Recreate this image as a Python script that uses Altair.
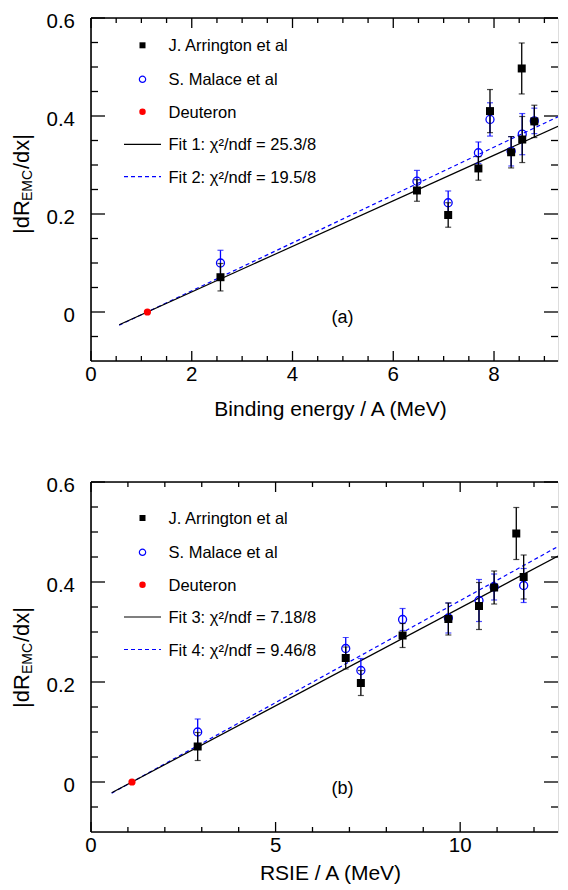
import altair as alt
import pandas as pd

FONT = "Liberation Sans"
BLUE = "#0000ff"
RED = "#ff0000"

# ---------------- data ----------------
# J. Arrington et al (black squares)
ARR_BE = [2.57, 6.47, 7.09, 7.69, 7.92, 8.34, 8.55, 8.56, 8.80]
ARR_RSIE = [2.89, 6.90, 7.31, 8.44, 11.72, 9.68, 11.52, 10.51, 10.92]
ARR_VAL = [0.071, 0.248, 0.198, 0.293, 0.410, 0.326, 0.497, 0.352, 0.389]
ARR_ERR = [0.028, 0.022, 0.025, 0.024, 0.044, 0.032, 0.052, 0.047, 0.033]
# S. Malace et al (open blue circles)
MAL_BE = [2.57, 6.47, 7.09, 7.69, 7.92, 8.34, 8.56, 8.80]
MAL_RSIE = [2.89, 6.90, 7.31, 8.44, 11.72, 9.68, 10.51, 10.92]
MAL_VAL = [0.100, 0.267, 0.223, 0.325, 0.393, 0.328, 0.363, 0.390]
MAL_ERR = [0.026, 0.022, 0.024, 0.022, 0.034, 0.030, 0.042, 0.026]
# Deuteron
DEU_BE = [1.12]
DEU_RSIE = [1.11]
DEU_VAL = [0.0]
# fit lines (end points)
FIT_BE_X = [0.56, 9.27]
FIT1_Y = [-0.026, 0.379]
FIT2_Y = [-0.027, 0.3985]
FIT_RSIE_X = [0.56, 12.65]
FIT3_Y = [-0.0216, 0.452]
FIT4_Y = [-0.0224, 0.471]

LEGEND_A = ["J. Arrington et al", "S. Malace et al", "Deuteron",
            "Fit 1: χ²/ndf = 25.3/8", "Fit 2: χ²/ndf = 19.5/8"]
LEGEND_B = ["J. Arrington et al", "S. Malace et al", "Deuteron",
            "Fit 3: χ²/ndf = 7.18/8", "Fit 4: χ²/ndf = 9.46/8"]

X_DOMAIN_A = [0, 9.27]
X_MAJOR_A = [0, 2, 4, 6, 8]
X_LABELS_A = ["0", "2", "4", "6", "8"]
X_MINOR_A = [0.5, 1, 1.5, 2.5, 3, 3.5, 4.5, 5, 5.5, 6.5, 7, 7.5, 8.5, 9]
X_DOMAIN_B = [0, 12.65]
X_MAJOR_B = [0, 5, 10]
X_LABELS_B = ["0", "5", "10"]
X_MINOR_B = [1, 2, 3, 4, 6, 7, 8, 9, 11, 12]
Y_DOMAIN = [-0.1, 0.6]
Y_MAJOR = [0, 0.2, 0.4, 0.6]
Y_LABELS = ["0", "0.2", "0.4", "0.6"]
Y_MINOR = [-0.05, 0.05, 0.1, 0.15, 0.25, 0.3, 0.35, 0.45, 0.5, 0.55]

# ---------------- layout / style ----------------
W = 467
ONE = pd.DataFrame({"k": [0]})
X_TICK_PX = (10, 5)   # major / minor tick length on x edges
Y_TICK_PX = (14, 7)   # major / minor tick length on y edges


def panel(x_arr, x_mal, x_deu, fit_x, fit_k, fit_b, legend, tag,
          xdom, xmaj, xlabs, xmin, xtitle, H, top_page, leg_rows_page, tag_page,
          title_pieces_page, title_base):
    xs = alt.Scale(domain=xdom, nice=False, zero=False)
    ys = alt.Scale(domain=Y_DOMAIN, nice=False, zero=False)
    ylo, yhi = Y_DOMAIN
    xlo, xhi = xdom
    upy = (yhi - ylo) / H          # data units per pixel (y)
    upx = (xhi - xlo) / W          # data units per pixel (x)

    arr = pd.DataFrame({"x": x_arr, "v": ARR_VAL,
                        "lo": [v - e for v, e in zip(ARR_VAL, ARR_ERR)],
                        "hi": [v + e for v, e in zip(ARR_VAL, ARR_ERR)]})
    mal = pd.DataFrame({"x": x_mal, "v": MAL_VAL,
                        "lo": [v - e for v, e in zip(MAL_VAL, MAL_ERR)],
                        "hi": [v + e for v, e in zip(MAL_VAL, MAL_ERR)]})
    deu = pd.DataFrame({"x": x_deu, "v": DEU_VAL})
    fk = pd.DataFrame({"x": fit_x, "v": fit_k})
    fb = pd.DataFrame({"x": fit_x, "v": fit_b})
    xmaj_df = pd.DataFrame({"t": xmaj, "lab": xlabs})
    ymaj_df = pd.DataFrame({"t": Y_MAJOR, "lab": Y_LABELS})

    # tick segments (inward) on all four sides
    xt = []
    for vals, size in [(xmaj, X_TICK_PX[0]), (xmin, X_TICK_PX[1])]:
        for t in vals:
            xt.append({"t": t, "a": ylo, "b": ylo + size * upy})
            xt.append({"t": t, "a": yhi, "b": yhi - size * upy})
    yt = []
    for vals, size in [(Y_MAJOR, Y_TICK_PX[0]), (Y_MINOR, Y_TICK_PX[1])]:
        for t in vals:
            yt.append({"t": t, "a": xlo, "b": xlo + size * upx})
            yt.append({"t": t, "a": xhi, "b": xhi - size * upx})
    xt_df = pd.DataFrame(xt)
    yt_df = pd.DataFrame(yt)

    def X(field):
        return alt.X(f"{field}:Q", scale=xs, axis=None)

    def Y(field):
        return alt.Y(f"{field}:Q", scale=ys, axis=None)

    layers = []
    layers.append(alt.Chart(xt_df).mark_rule(color="black", strokeWidth=1.3)
                  .encode(x=X("t"), y=Y("a"), y2="b:Q"))
    layers.append(alt.Chart(yt_df).mark_rule(color="black", strokeWidth=1.3)
                  .encode(y=Y("t"), x=X("a"), x2="b:Q"))
    # frame (left, bottom, top)
    layers.append(alt.Chart(ONE).mark_rule(color="black", strokeWidth=1.6)
                  .encode(x=alt.value(0), y=alt.value(0), y2=alt.value(H)))
    layers.append(alt.Chart(ONE).mark_rule(color="black", strokeWidth=1.6)
                  .encode(x=alt.value(0), x2=alt.value(W), y=alt.value(H)))
    layers.append(alt.Chart(ONE).mark_rule(color="black", strokeWidth=1.6)
                  .encode(x=alt.value(0), x2=alt.value(W), y=alt.value(0)))
    # tick labels
    layers.append(alt.Chart(xmaj_df).mark_text(font=FONT, fontSize=20.5,
                                               color="black", align="center",
                                               baseline="alphabetic")
                  .encode(x=X("t"), y=alt.value(H + 19.8), text="lab:N"))
    layers.append(alt.Chart(ymaj_df).mark_text(font=FONT, fontSize=20.5,
                                               color="black", align="right",
                                               baseline="alphabetic", dy=10.4)
                  .encode(y=Y("t"), x=alt.value(-16), text="lab:N"))
    # x title
    layers.append(alt.Chart(ONE).mark_text(text=xtitle, font=FONT, fontSize=21,
                                           color="black", align="center",
                                           baseline="alphabetic")
                  .encode(x=alt.value(239.5), y=alt.value(H + title_base)))

    # fit lines
    layers.append(alt.Chart(fb).mark_line(color=BLUE, strokeWidth=1.2,
                                          strokeDash=[4, 3], clip=True)
                  .encode(x=X("x"), y=Y("v")))
    layers.append(alt.Chart(fk).mark_line(color="black", strokeWidth=1.2, clip=True)
                  .encode(x=X("x"), y=Y("v")))
    # Malace error bars + points
    layers.append(alt.Chart(mal).mark_rule(color=BLUE, strokeWidth=1.3)
                  .encode(x=X("x"), y=Y("lo"), y2="hi:Q"))
    for f in ["lo", "hi"]:
        layers.append(alt.Chart(mal).mark_tick(color=BLUE, orient="horizontal",
                                               size=6, thickness=1.2)
                      .encode(x=X("x"), y=Y(f)))
    layers.append(alt.Chart(mal).mark_point(shape="circle", filled=False,
                                            color=BLUE, size=64, strokeWidth=1.3,
                                            opacity=1)
                  .encode(x=X("x"), y=Y("v")))
    # Arrington error bars + points
    layers.append(alt.Chart(arr).mark_rule(color="black", strokeWidth=1.3)
                  .encode(x=X("x"), y=Y("lo"), y2="hi:Q"))
    for f in ["lo", "hi"]:
        layers.append(alt.Chart(arr).mark_tick(color="black", orient="horizontal",
                                               size=6, thickness=1.2)
                      .encode(x=X("x"), y=Y(f)))
    layers.append(alt.Chart(arr).mark_point(shape="square", filled=True,
                                            color="black", size=64, opacity=1)
                  .encode(x=X("x"), y=Y("v")))
    # Deuteron
    layers.append(alt.Chart(deu).mark_point(shape="circle", filled=True,
                                            color=RED, size=52, opacity=1)
                  .encode(x=X("x"), y=Y("v")))

    # legend
    rows = [r - top_page for r in leg_rows_page]
    mx, tx = 51.5, 77.5
    layers.append(alt.Chart(ONE).mark_point(shape="square", filled=True,
                                            color="black", size=36, opacity=1)
                  .encode(x=alt.value(mx), y=alt.value(rows[0])))
    layers.append(alt.Chart(ONE).mark_point(shape="circle", filled=False,
                                            color=BLUE, size=40, strokeWidth=1.2,
                                            opacity=1)
                  .encode(x=alt.value(mx), y=alt.value(rows[1])))
    layers.append(alt.Chart(ONE).mark_point(shape="circle", filled=True,
                                            color=RED, size=42, opacity=1)
                  .encode(x=alt.value(mx), y=alt.value(rows[2])))
    layers.append(alt.Chart(ONE).mark_rule(color="black", strokeWidth=1.2)
                  .encode(x=alt.value(33), x2=alt.value(70),
                          y=alt.value(rows[3])))
    layers.append(alt.Chart(ONE).mark_rule(color=BLUE, strokeWidth=1.2,
                                           strokeDash=[4, 3])
                  .encode(x=alt.value(33), x2=alt.value(70),
                          y=alt.value(rows[4])))
    for row, lab in zip(rows, legend):
        layers.append(alt.Chart(ONE).mark_text(text=lab, font=FONT, fontSize=16.5,
                                               color="black", align="left",
                                               baseline="middle")
                      .encode(x=alt.value(tx), y=alt.value(row + 1)))
    # panel tag
    layers.append(alt.Chart(ONE).mark_text(text=tag, font=FONT, fontSize=18,
                                           color="black", align="center",
                                           baseline="middle")
                  .encode(x=alt.value(251.5), y=alt.value(tag_page - top_page)))
    # y title |dR_EMC/dx| (rotated, with subscript)
    for (txt, size, xpos), ypage in zip([("|dR", 22, -62.2),
                                         ("EMC", 14, -58.6),
                                         ("/dx|", 22, -62.2)], title_pieces_page):
        layers.append(alt.Chart(ONE).mark_text(text=txt, font=FONT, fontSize=size,
                                               color="black", angle=270,
                                               align="left", baseline="alphabetic")
                      .encode(x=alt.value(xpos), y=alt.value(ypage - top_page)))

    return alt.layer(*layers).properties(width=W, height=H)


top = panel(ARR_BE, MAL_BE, DEU_BE, FIT_BE_X, FIT1_Y, FIT2_Y, LEGEND_A, "(a)",
            X_DOMAIN_A, X_MAJOR_A, X_LABELS_A, X_MINOR_A, "Binding energy / A (MeV)",
            H=343, top_page=17,
            leg_rows_page=[44.3, 78.3, 110.7, 143.3, 175.7], tag_page=317,
            title_pieces_page=[233, 200, 168], title_base=55)
bottom = panel(ARR_RSIE, MAL_RSIE, DEU_RSIE, FIT_RSIE_X, FIT3_Y, FIT4_Y, LEGEND_B,
               "(b)", X_DOMAIN_B, X_MAJOR_B, X_LABELS_B, X_MINOR_B, "RSIE / A (MeV)",
               H=350, top_page=479,
               leg_rows_page=[515, 549.3, 581.7, 614, 646.5], tag_page=786,
               title_pieces_page=[705, 671, 639], title_base=48)

chart = alt.vconcat(top, bottom, spacing=54).properties(
    padding={"left": 2, "top": 3, "right": 0, "bottom": 0}
).configure_view(stroke=None).configure(background="white")

chart.save("out.html", embed_options={"renderer": "svg", "actions": False})
